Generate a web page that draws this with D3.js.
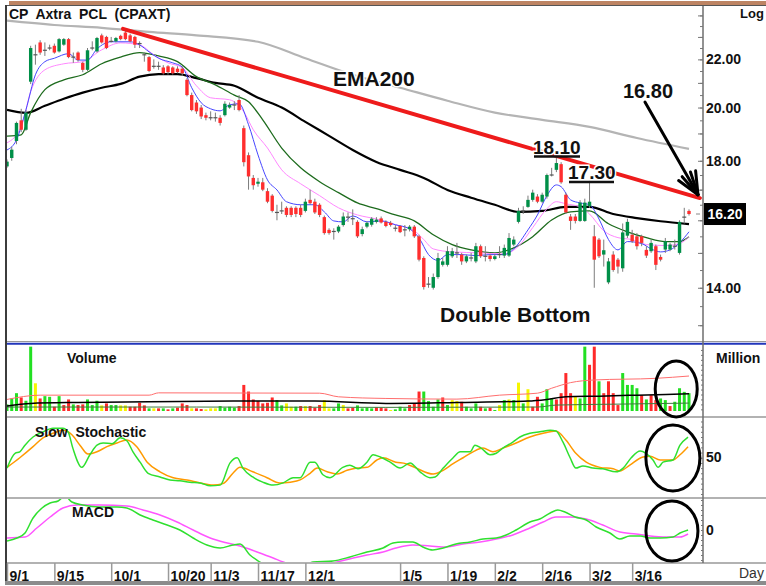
<!DOCTYPE html>
<html lang="en">
<head>
<meta charset="UTF-8">
<title>CP Axtra PCL (CPAXT)</title>
<script src="https://cdn.jsdelivr.net/npm/d3@7"></script>
<style>
html,body{margin:0;padding:0;background:#fff}
svg{display:block;font-family:"Liberation Sans",Arial,sans-serif}
.b{font-weight:bold;fill:#111}
</style>
</head>
<body>
<svg id="chart" width="766" height="586"></svg>
<script>
// ---- daily candles (trading-day index 0..144) ----
const open = [
17.80,18.10,18.72,19.50,19.14,21.05,22.20,22.75,22.40,22.50,
22.60,22.35,22.65,22.90,22.10,22.30,21.85,21.55,22.50,22.35,
23.07,23.00,22.80,22.80,23.05,23.20,23.07,23.00,22.70,22.20,
22.10,21.70,21.70,21.65,21.70,21.65,21.60,21.60,21.13,20.50,
20.20,20.00,19.70,19.60,19.60,19.60,19.70,20.00,20.10,20.30,
19.20,18.20,17.40,17.20,17.25,16.95,16.80,16.25,16.30,16.40,
16.40,16.40,16.40,16.30,16.66,16.60,16.50,16.10,15.70,15.65,
15.65,15.85,16.10,16.05,15.95,15.57,15.80,15.86,15.95,16.06,
15.95,15.92,15.75,15.82,15.70,15.72,15.80,15.50,14.85,14.10,
14.00,14.30,14.65,14.65,14.90,15.00,14.95,14.75,14.85,14.75,
15.20,14.90,14.92,14.82,14.95,14.92,14.92,15.25,15.95,16.30,
16.43,16.66,16.77,16.60,16.77,17.50,17.68,17.88,16.83,16.12,
16.12,15.98,15.98,16.45,15.50,15.40,14.95,14.15,14.95,14.80,
14.55,15.52,15.55,15.50,15.50,15.09,15.05,15.20,14.88,15.10,
15.10,15.20,15.00,16.10,16.30];
const high = [
18.05,18.50,19.45,19.95,19.90,22.60,22.65,22.85,22.75,22.65,
22.70,22.95,22.95,22.95,22.30,22.35,21.90,22.50,22.80,23.00,
23.15,23.05,23.00,23.00,23.10,23.35,23.15,23.05,22.80,22.30,
22.15,22.00,21.90,21.75,21.75,21.70,21.70,21.70,21.20,20.60,
20.30,20.10,19.80,19.85,19.80,19.70,20.25,20.20,20.25,20.50,
19.30,18.30,17.50,17.40,17.40,17.05,16.85,16.50,16.60,16.45,
16.45,16.45,16.50,16.70,17.00,16.70,16.55,16.15,15.75,15.75,
15.85,16.25,16.25,16.35,16.00,15.80,15.97,16.10,16.10,16.12,
16.00,15.98,15.85,15.85,15.85,15.85,15.85,15.55,14.90,14.30,
14.40,15.00,14.85,15.20,15.15,15.30,15.00,14.95,15.00,15.30,
15.25,15.20,14.97,14.97,15.20,15.25,15.60,15.50,16.40,16.45,
16.80,17.00,16.85,16.90,17.55,17.75,18.10,17.95,16.90,16.20,
16.20,16.65,16.70,17.30,15.85,15.45,15.40,14.85,15.05,14.85,
15.90,16.05,15.70,15.60,15.55,15.20,15.40,15.25,14.95,15.45,
15.30,15.40,16.00,16.40,16.35];
const low = [
17.75,18.00,18.60,19.05,19.10,20.95,21.77,22.20,22.15,22.40,
22.25,22.30,22.60,22.05,21.85,21.90,21.45,21.50,22.40,22.30,
22.70,22.45,22.75,22.75,22.85,22.85,22.75,22.50,22.50,21.90,
21.45,21.60,21.55,21.35,21.35,21.35,21.40,21.30,20.45,19.85,
19.75,19.55,19.50,19.50,19.45,19.30,19.65,19.95,19.90,19.85,
17.80,17.00,17.00,17.10,16.95,16.55,16.25,16.00,16.20,16.10,
16.10,16.10,16.10,16.25,16.50,16.20,16.10,15.55,15.55,15.40,
15.60,15.80,15.95,15.85,15.45,15.50,15.75,15.80,15.90,15.90,
15.78,15.80,15.65,15.60,15.50,15.65,15.45,14.75,13.95,14.00,
13.95,14.25,14.60,14.60,14.85,14.85,14.65,14.70,14.75,14.70,
14.85,14.75,14.75,14.78,14.85,14.85,14.88,15.20,15.90,16.20,
16.40,16.60,16.55,16.55,16.70,17.45,17.60,17.20,16.20,15.70,
15.90,15.95,15.95,16.40,14.00,14.85,14.60,14.10,14.45,14.40,
14.45,15.45,15.30,15.10,15.20,14.85,15.00,14.50,14.75,15.00,
15.05,15.10,14.95,15.90,16.15];
const close = [
17.97,18.40,19.40,19.14,19.80,22.50,22.20,22.30,22.40,22.50,
22.30,22.90,22.90,22.10,22.10,21.97,21.55,22.40,22.50,22.95,
22.75,22.50,22.80,22.95,22.90,22.90,22.80,22.65,22.70,22.20,
21.50,21.70,21.70,21.40,21.45,21.40,21.45,21.40,20.50,19.90,
19.85,19.65,19.60,19.60,19.60,19.40,20.15,20.10,20.10,19.90,
17.95,17.45,17.15,17.27,17.00,16.60,16.30,16.25,16.30,16.17,
16.17,16.20,16.17,16.60,16.55,16.25,16.17,15.60,15.60,15.65,
15.80,16.12,16.10,16.05,15.50,15.72,15.92,16.05,16.02,15.93,
15.82,15.85,15.75,15.63,15.70,15.80,15.50,14.80,14.02,14.10,
14.30,14.85,14.75,15.05,15.05,15.00,14.75,14.90,14.85,15.20,
14.90,14.90,14.82,14.90,14.95,15.15,15.45,15.40,16.30,16.30,
16.66,16.90,16.60,16.83,17.50,17.50,17.92,17.25,16.25,15.98,
15.98,16.57,16.57,16.60,14.80,14.90,15.08,14.75,14.50,14.60,
15.62,15.95,15.35,15.20,15.30,14.92,15.30,14.65,14.80,15.35,
15.25,15.20,15.95,16.10,16.20];

// ---- moving averages on price (read at sample days) ----
const ema200Idx = [0,10,20,30,40,53,63,73,83,93,103,113,123,133,144];
const ema200 = [23.75,23.55,23.42,23.23,23.07,22.78,22.05,21.34,20.8,20.27,19.8,19.52,19.25,18.83,18.43];
const maLongIdx = [0,4,8,12,16,20,24,28,32,36,40,44,48,53,58,63,68,73,78,83,88,93,98,103,108,113,118,123,128,133,138,144];
const maLong = [19.91,19.79,20.07,20.35,20.6,20.8,20.96,21.26,21.37,21.37,21.2,21.0,20.88,20.39,20.0,19.44,18.91,18.39,17.96,17.68,17.4,16.99,16.73,16.5,16.27,16.3,16.43,16.43,16.2,16.07,15.97,15.88];
const maMidIdx = [0,3,5,8,12,16,20,24,28,32,36,40,44,48,51,54,58,62,66,70,74,78,82,86,90,94,98,103,107,111,115,119,123,127,131,135,139,142,144];
const maMid = [18.9,18.95,19.8,20.72,21.13,21.34,21.81,22.1,22.3,22.15,21.9,21.26,20.92,20.5,20.23,19.52,18.46,17.75,17.27,16.9,16.56,16.37,16.17,15.98,15.55,15.25,15.09,15.0,15.15,15.49,16.01,16.27,16.3,15.89,15.64,15.46,15.34,15.34,15.49];
const maFastIdx = [0,3,5,8,12,16,20,24,28,31,34,37,40,43,47,50,52,55,58,62,66,70,74,78,82,86,88,90,94,100,105,108,111,114,116,118,121,123,126,129,132,135,139,142,144];
const maFast = [18.65,19.25,20.64,21.55,21.81,21.9,22.42,22.73,22.64,22.2,21.85,21.64,20.88,20.39,20.31,19.83,19.14,18.46,17.68,17.2,16.8,16.4,16.17,16.04,15.86,15.67,15.4,15.12,15.03,15.0,14.97,15.2,15.77,16.37,16.6,16.53,16.43,16.2,15.67,15.46,15.4,15.25,15.22,15.28,15.49];
const maFastestIdx = [0,2,4,6,8,10,13,15,17,19,22,26,28,30,32,35,37,39,41,43,45,47,49,51,53,55,57,59,62,65,67,69,71,73,76,79,82,85,87,89,91,93,96,99,102,105,107,110,112,114,116,117,119,121,123,125,127,129,131,134,136,138,140,142,144];
const maFastest = [18.39,18.76,19.91,21.34,21.9,22.05,22.25,21.97,21.97,22.46,22.78,22.78,22.64,22.33,22.05,21.85,21.67,20.8,20.19,19.95,19.87,20.11,20.15,19.33,18.21,17.33,16.99,16.6,16.5,16.5,16.27,15.98,15.95,16.14,15.95,15.98,15.86,15.73,15.45,14.95,14.78,14.95,14.95,14.92,14.95,14.95,15.12,15.7,16.17,16.8,17.16,17.1,16.66,16.56,16.5,16.04,15.4,15.09,15.34,15.28,15.12,15.03,15.09,15.3,15.64];

// ---- volume (million shares) ----
const volume = [
2.0,3.8,5.4,4.1,3.1,19.5,8.4,3.8,4.5,4.3,
1.3,4.5,1.8,3.5,2.0,1.8,2.0,3.5,1.8,3.1,
1.7,2.3,1.8,1.8,1.7,1.7,1.3,1.3,2.5,1.7,
0.8,0.8,0.8,0.8,0.5,0.8,1.0,2.3,1.8,0.8,
0.8,0.6,0.5,0.8,0.8,1.5,1.0,1.3,1.0,1.5,
7.9,5.9,3.5,3.0,2.3,2.5,4.1,3.3,1.7,2.3,
1.3,1.3,1.5,1.5,1.5,1.0,1.8,3.3,0.8,0.8,
2.3,1.8,0.8,1.0,1.7,0.8,1.0,0.8,1.1,1.0,
0.8,0.3,0.5,1.3,0.8,1.8,2.3,5.9,5.9,3.0,
1.3,3.5,4.1,1.8,3.3,3.0,2.8,1.3,0.8,2.3,
1.3,0.8,1.0,0.3,1.8,3.3,3.5,3.3,8.6,2.3,
6.6,1.3,4.3,2.3,6.6,3.8,3.5,5.4,11.5,5.4,
4.3,3.8,19.5,14.0,19.5,9.0,5.4,9.0,5.4,1.8,
11.5,7.9,7.9,6.9,4.8,3.5,4.8,3.3,3.8,3.3,
1.5,2.8,6.9,5.8,5.4];
// g = up, r = down, y = unchanged
const volColor = (
"gggrggyrggrgrrgrrggg" +
"yrggyyrrrrgyrgrgrrry" +
"rryyyggggrrrrrrrrggy" +
"ygryrrryyggyrrggggrr" +
"rygggrrrggggrgyyrggg" +
"rgrgygygygyrrgggrrrr" +
"yggrrgrrrrggggrgrrgg" +
"rgggg").split('');
const volMaRedIdx = [0,7,30,32,66,70,80,95,104,112,115,119,124,137,144];
const volMaRed = [3.5,4.8,4.8,5.5,5.4,4.3,3.8,3.6,4.8,5.4,6.9,8.6,9.4,9.9,10.6];
const volMaBlackIdx = [0,5,15,30,50,65,80,95,110,114,118,125,133,144];
const volMaBlack = [1.5,2.3,2.6,2.8,3.0,3.0,2.3,2.6,3.0,3.5,4.3,4.5,4.8,5.2];
const volMaGreenIdx = [0,40,80,112,116,130,144];
const volMaGreen = [1.2,1.2,1.1,1.2,1.8,2.1,2.4];

// ---- slow stochastic ----
const stochKIdx = [0,1.7,2.7,3.8,5.5,7.6,9.7,11.8,12.9,13.9,15.8,17.5,19,20.3,22.2,23.9,25.3,26.6,28.1,29.8,32.3,34.4,36.5,38.6,40.8,42.9,45,47.1,48.6,49.8,51.9,54,56.2,58.3,60.4,61.9,64,65,66.7,68.2,70.9,72.4,74.1,76,77.3,78.8,80.9,83,85.1,87.2,89.3,90.4,92.1,94.2,95.7,97.8,98.8,100.1,102,103.3,104.7,106.8,108.3,110.4,112.5,114.7,115.9,117.4,118.9,120.1,121.6,123.7,125.8,128.6,130.1,131.8,133.7,134.9,136.4,137.5,138.5,140.6,142.1,143.8];
const stochK = [35,55,57,66,77,84,89,89,84,62,36,53,66,69,68,76,72,57,43,28,23,19,18,16,15,11,12,42,49,35,23,16,12,15,22,22,43,43,26,22,36,39,34,43,53,50,43,35,42,30,22,23,35,49,57,57,66,62,53,55,62,70,77,82,84,86,85,70,49,35,38,35,34,30,35,49,58,55,46,36,43,46,66,77];
const stochDIdx = [0,2.7,5.5,7.6,9.7,11.8,13.7,15.4,17.1,19,21.1,23.2,25.3,27.4,29.6,32.3,35.1,38,40.8,43.5,45.6,47.7,49.2,51.9,54.9,57.6,59.8,61.9,64,65.5,67.6,69.7,71.8,73.9,76,78.1,79.4,82.1,84.2,86.4,90,92.1,94.2,96.3,98.4,100.5,102.6,104.7,107.5,110.4,113.2,115.9,118,120.1,122.3,125.2,128,129.4,131.5,134.3,135.8,137.9,140.6,142.1,143.8];
const stochD = [36,49,64,76,82,86,80,66,54,57,64,69,73,64,43,30,22,19,15,12,14,28,36,30,22,15,16,19,28,35,30,27,32,35,36,46,49,43,41,35,27,32,41,49,57,62,57,62,69,77,82,85,73,55,43,36,34,31,39,50,51,46,46,53,64];

// ---- MACD ----
const macdIdx = [0,2.1,3.8,5.5,7.4,9.1,10.8,12.2,13.7,16,19.6,23.2,25.3,28.1,30.8,33.8,36.5,39.3,42.2,45,47.7,49.2,51.3,53.4,56.6,59.8,62.9,64.6,68.8,72.4,76,79.4,81.5,83.6,85.7,87.8,89.9,92.1,94.8,97.8,100.5,103.3,105.4,107.5,110.4,112.5,114.7,116.3,117.8,120,122.3,124.4,127.3,129.4,131.5,133.7,135.8,137.9,140.6,142.1,143.8];
const macd = [-0.11,-0.08,-0.03,0.12,0.22,0.27,0.29,0.34,0.28,0.25,0.23,0.23,0.22,0.15,0.10,0.05,0.0,-0.08,-0.15,-0.18,-0.15,-0.14,-0.25,-0.32,-0.42,-0.44,-0.36,-0.32,-0.31,-0.27,-0.22,-0.18,-0.13,-0.12,-0.12,-0.17,-0.20,-0.18,-0.14,-0.12,-0.09,-0.08,-0.05,0.0,0.08,0.11,0.17,0.20,0.18,0.13,0.10,0.03,-0.03,-0.09,-0.06,-0.06,-0.08,-0.08,-0.07,-0.03,0.0];
const signalIdx = [0,3.8,6.3,9.1,11.8,14.8,19.6,25.3,28.7,32.3,35.9,39.3,42.9,46.5,49.2,52.8,56.2,58.3,61.9,66.1,69.7,73.1,76,79.4,82.1,85.7,89.3,92.7,96.3,99.9,103.3,106.8,110.4,113.2,115.9,118.9,122.3,125.8,129.4,132.8,135.8,139.1,142.1,143.8];
const signal = [-0.08,-0.07,0.02,0.13,0.22,0.25,0.25,0.24,0.20,0.15,0.08,0.0,-0.08,-0.13,-0.16,-0.22,-0.28,-0.32,-0.37,-0.36,-0.32,-0.28,-0.25,-0.22,-0.18,-0.15,-0.16,-0.17,-0.14,-0.12,-0.09,-0.05,0.02,0.08,0.13,0.13,0.11,0.05,-0.02,-0.04,-0.06,-0.07,-0.07,-0.04];

// ---- axis ticks ----
const dateIdx = [0,10,22,34,43,53,63,83,93,103,113,123,132];
const dateLabels = ['9/1','9/15','10/1','10/20','11/3','11/17','12/1','1/5','1/19','2/2','2/16','3/2','3/16'];
const priceTicks = [14,18,20,22];
const lastPrice = 16.20;

// trend line (EMA200 resistance) and call-outs, in day/price units
const trend = [[24.5, 23.37], [146.3, 16.72]];
const arrow = [[134.7, 20.22], [145.9, 16.83]];

const svg = d3.select('#chart');
const L = 7, R = 703;

const x = d3.scaleLinear().domain([0, close.length - 1]).range([7, 689]);
const yP = d3.scaleLog().domain([12.6, 24.5]).range([341, 5]);
const yV = d3.scaleLinear().domain([0, 20]).range([411, 345]);
const yS = d3.scaleLinear().domain([0, 100]).range([494, 420]);
const yM = d3.scaleLinear().domain([-0.33, 0.31]).range([563, 499]);

svg.append('rect').attr('width', 766).attr('height', 586).attr('fill', '#fff');

const defs = svg.append('defs');
function clip(id, y0, y1) {
  defs.append('clipPath').attr('id', id).append('rect')
    .attr('x', L).attr('y', y0).attr('width', R - L).attr('height', y1 - y0);
}
clip('cpP', 6, 341); clip('cpV', 345, 416); clip('cpS', 418, 497); clip('cpM', 499, 562);

function series(g, idx, vals, ys, color, w) {
  g.append('path').datum(idx.map((d, k) => [d, vals[k]]))
    .attr('fill', 'none').attr('stroke', color).attr('stroke-width', w)
    .attr('stroke-linejoin', 'round')
    .attr('d', d3.line().x(d => x(d[0])).y(d => ys(d[1])).curve(d3.curveMonotoneX));
}
function text(t, px, py, size, extra) {
  const el = svg.append('text').attr('class', 'b').attr('x', px).attr('y', py)
    .style('font-size', size + 'px').style('white-space', 'pre').text(t);
  if (extra) extra(el);
  return el;
}
const halo = el => el.attr('stroke', '#fff').attr('stroke-width', 3).attr('paint-order', 'stroke');

// ---- price panel ----
const gP = svg.append('g').attr('clip-path', 'url(#cpP)');
series(gP, ema200Idx, ema200, yP, '#b4b4b4', 2.2);
series(gP, maLongIdx, maLong, yP, '#000', 2.2);
series(gP, maMidIdx, maMid, yP, '#1d6b1d', 1.3);
series(gP, maFastIdx, maFast, yP, '#ff88ff', 1);
series(gP, maFastestIdx, maFastest, yP, '#4646ff', 1);

const days = d3.range(close.length);
gP.selectAll('line.wick').data(days).join('line').attr('class', 'wick')
  .attr('x1', i => x(i)).attr('x2', i => x(i))
  .attr('y1', i => yP(high[i])).attr('y2', i => yP(low[i]))
  .attr('stroke', '#7c7c7c').attr('stroke-width', 1);
gP.selectAll('rect.body').data(days.filter(i => open[i] !== close[i])).join('rect').attr('class', 'body')
  .attr('x', i => x(i) - 1.7).attr('width', 3.4)
  .attr('y', i => yP(Math.max(open[i], close[i])))
  .attr('height', i => Math.max(1, Math.abs(yP(open[i]) - yP(close[i]))))
  .attr('fill', i => close[i] > open[i] ? '#008f48' : '#ff2e2e');
gP.selectAll('line.doji').data(days.filter(i => open[i] === close[i])).join('line').attr('class', 'doji')
  .attr('x1', i => x(i) - 2).attr('x2', i => x(i) + 2)
  .attr('y1', i => yP(close[i])).attr('y2', i => yP(close[i]))
  .attr('stroke', '#555').attr('stroke-width', 1.2);

gP.append('line')
  .attr('x1', x(trend[0][0])).attr('y1', yP(trend[0][1]))
  .attr('x2', x(trend[1][0])).attr('y2', yP(trend[1][1]))
  .attr('stroke', '#ee1b1b').attr('stroke-width', 4).attr('stroke-linecap', 'round');

// ---- volume panel ----
const gV = svg.append('g').attr('clip-path', 'url(#cpV)');
const volFill = { g: '#22e022', r: '#ff2a2a', y: '#f6f600' };
gV.selectAll('rect').data(days).join('rect')
  .attr('x', i => x(i) - 1.5).attr('width', 3)
  .attr('y', i => yV(volume[i])).attr('height', i => yV(0) - yV(volume[i]))
  .attr('fill', i => volFill[volColor[i]]);
series(gV, volMaRedIdx, volMaRed, yV, '#ff6e6e', 1);
series(gV, volMaGreenIdx, volMaGreen, yV, '#3d7a3d', 1);
series(gV, volMaBlackIdx, volMaBlack, yV, '#000', 1.5);

// ---- stochastic panel ----
const gS = svg.append('g').attr('clip-path', 'url(#cpS)');
series(gS, stochDIdx, stochD, yS, '#ff9a00', 1.5);
series(gS, stochKIdx, stochK, yS, '#2fe02f', 1.5);

// ---- MACD panel ----
const gM = svg.append('g').attr('clip-path', 'url(#cpM)');
series(gM, signalIdx, signal, yM, '#ff55ff', 1.5);
series(gM, macdIdx, macd, yM, '#2fe02f', 1.5);

// ---- frame and separators ----
svg.append('rect').attr('x', 9).attr('y', 1).attr('width', 757).attr('height', 4).attr('fill', '#bd8463');
svg.append('line').attr('x1', 5).attr('x2', 766).attr('y1', 5.5).attr('y2', 5.5).attr('stroke', '#555');
svg.append('rect').attr('x', 5).attr('y', 5).attr('width', 2).attr('height', 578).attr('fill', '#3c3c3c');
svg.append('rect').attr('x', 5).attr('y', 581).attr('width', 761).attr('height', 4).attr('fill', '#8c8c8c');
[[341.5, '#999', 1], [343.8, '#2236bb', 2], [417, '#999', 1.5], [498, '#999', 1.5], [563, '#999', 1.5]]
  .forEach(([yy, c, w]) => svg.append('line').attr('x1', L).attr('x2', 766)
    .attr('y1', yy).attr('y2', yy).attr('stroke', c).attr('stroke-width', w));
svg.append('line').attr('x1', R).attr('x2', R).attr('y1', 6).attr('y2', 563)
  .attr('stroke', '#6e6e6e').attr('stroke-width', 1.5);

// right axes
function ticksLeft(scale, vals, size) {
  svg.append('g').attr('transform', `translate(${R},0)`)
    .call(d3.axisLeft(scale).tickValues(vals).tickSize(size).tickFormat(''))
    .call(g => g.select('.domain').remove())
    .call(g => g.selectAll('line').attr('stroke', '#777'));
}
ticksLeft(yP, d3.range(13, 24.5, 0.5), 3);
ticksLeft(yP, d3.range(13, 25, 1), 5);
ticksLeft(yV, d3.range(0.5, 20, 1.5), 2);
ticksLeft(yS, d3.range(0, 101, 7), 2);
ticksLeft(yM, d3.range(-0.3, 0.31, 0.05), 2);

function labelsRight(scale, vals, fmt) {
  svg.append('g').attr('transform', `translate(${R},0)`)
    .call(d3.axisRight(scale).tickValues(vals).tickSize(0).tickPadding(3).tickFormat(fmt))
    .call(g => g.select('.domain').remove())
    .call(g => g.selectAll('text').attr('class', 'b').style('font-size', '14px')
      .style('font-family', '"Liberation Sans",Arial,sans-serif'));
}
labelsRight(yP, priceTicks, d3.format('.2f'));
labelsRight(yS, [50], d3.format('d'));
labelsRight(yM, [0], d3.format('d'));

// last price box
svg.append('line').attr('x1', 696).attr('x2', 700).attr('y1', yP(lastPrice)).attr('y2', yP(lastPrice))
  .attr('stroke', '#888');
svg.append('rect').attr('x', 704).attr('y', yP(lastPrice) - 11).attr('width', 42).attr('height', 22).attr('fill', '#000');
text(d3.format('.2f')(lastPrice), 725, yP(lastPrice) + 5, 14, el => el.attr('text-anchor', 'middle').style('fill', '#fff'));

// date axis
const gx = svg.append('g').attr('transform', 'translate(0,563)')
  .call(d3.axisBottom(x).tickValues(dateIdx).tickSize(19).tickSizeOuter(0)
    .tickFormat((d, k) => dateLabels[k]));
gx.select('.domain').remove();
gx.selectAll('.tick line').attr('stroke', '#9a9a9a').attr('stroke-width', 1.5);
gx.selectAll('.tick text').attr('class', 'b').attr('x', 2).attr('y', 18).attr('dy', 0)
  .attr('text-anchor', 'start').style('font-size', '14px')
  .style('font-family', '"Liberation Sans",Arial,sans-serif');
svg.append('text').attr('x', 739).attr('y', 578).style('font-size', '14px').attr('fill', '#333').text('Day');

// titles and labels
text('CP  Axtra  PCL  (CPAXT)', 9, 19, 14);
text('Log', 740, 18, 13);
text('Volume', 67, 363, 14);
text('Million', 716, 363, 14);
text('Slow  Stochastic', 35, 437, 14);
text('MACD', 72, 517, 14);
text('EMA200', 333, 86, 21, halo);
text('Double Bottom', 440, 322, 21);
text('16.80', 623, 98, 20, halo);
text('18.10', 533, 154, 19, halo);
text('17.30', 568, 179, 19, halo);
svg.append('line').attr('x1', 534).attr('x2', 580).attr('y1', 156.5).attr('y2', 156.5).attr('stroke', '#111').attr('stroke-width', 2.5);
svg.append('line').attr('x1', 569).attr('x2', 614).attr('y1', 182).attr('y2', 182).attr('stroke', '#111').attr('stroke-width', 2.5);

// arrow to the trend line
const ax0 = x(arrow[0][0]), ay0 = yP(arrow[0][1]), ax1 = x(arrow[1][0]), ay1 = yP(arrow[1][1]);
const ang = Math.atan2(ay1 - ay0, ax1 - ax0);
const gA = svg.append('g').attr('stroke', '#000').attr('stroke-width', 3).attr('stroke-linecap', 'round');
gA.append('line').attr('x1', ax0).attr('y1', ay0).attr('x2', ax1).attr('y2', ay1);
[-0.42, -0.2, 0.2, 0.42].forEach(a => {
  gA.append('line').attr('x1', ax1).attr('y1', ay1)
    .attr('x2', ax1 - 24 * Math.cos(ang + a)).attr('y2', ay1 - 24 * Math.sin(ang + a));
});

// highlight ellipses on the last days
const rings = [[141.3, yV, 6.7, 21, 28], [140.6, yS, 48.6, 27, 33], [140.4, yM, -0.01, 26, 30]];
rings.forEach(([i, s, v, rx, ry]) => svg.append('ellipse')
  .attr('cx', x(i)).attr('cy', s(v)).attr('rx', rx).attr('ry', ry)
  .attr('fill', 'none').attr('stroke', '#000').attr('stroke-width', 3));
</script>
</body>
</html>
